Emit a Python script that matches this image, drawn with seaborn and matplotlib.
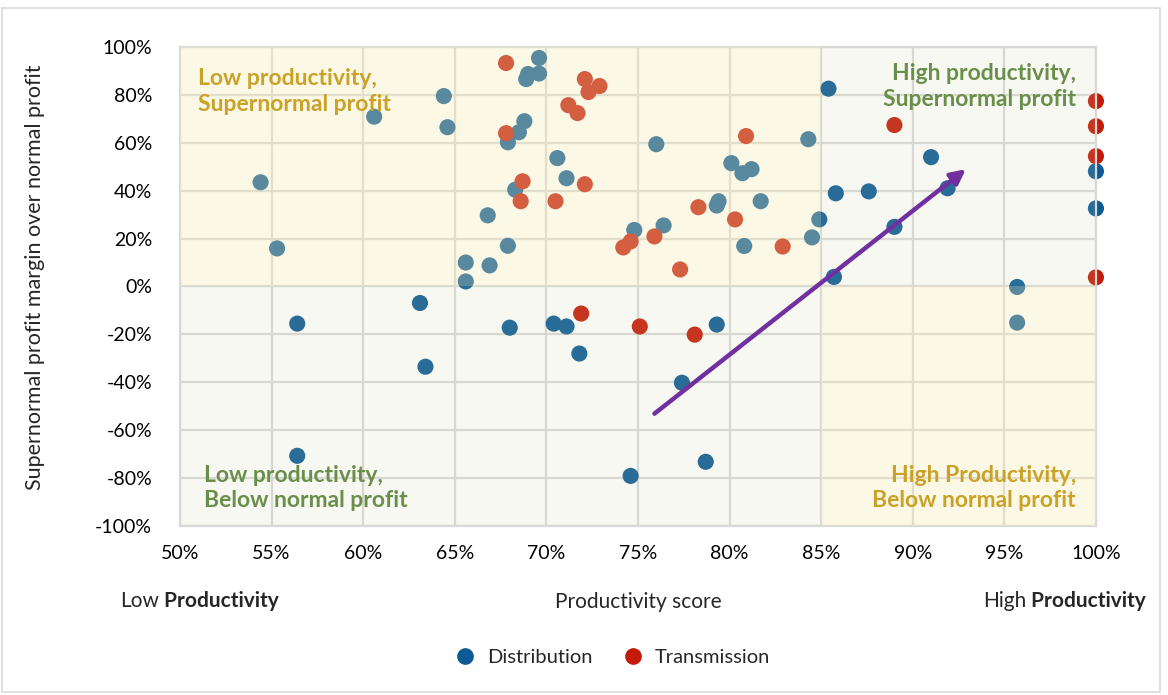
import pandas as pd
import numpy as np
import matplotlib
matplotlib.use("Agg")
import matplotlib.pyplot as plt
import seaborn as sns
from matplotlib.patches import Rectangle
from matplotlib.lines import Line2D

# --- data (productivity %, supernormal margin %) ---
dist_x = [54.4, 55.3, 56.4, 56.4, 60.6, 63.1, 63.4, 64.4, 64.6, 65.6, 65.6, 66.8, 66.9,
          68.0, 67.9, 67.9, 68.3, 68.5, 68.8, 68.9, 69.0, 69.6, 69.6, 70.4, 71.1, 71.8,
          70.6, 71.1, 74.6, 74.8, 76.0, 76.4, 77.4, 78.7, 79.3, 79.4, 79.3, 80.1, 80.7,
          81.2, 81.7, 80.8, 84.3, 84.5, 84.9, 85.4, 85.8, 85.7, 87.6, 89.0, 91.0, 91.9,
          95.7, 95.7, 100.0, 100.0]
dist_y = [43.5, 15.9, -15.5, -70.7, 70.9, -6.9, -33.5, 79.5, 66.5, 10.0, 2.1, 29.7, 8.8,
          -17.2, 17.0, 60.2, 40.4, 64.4, 69.0, 86.6, 88.7, 88.9, 95.4, -15.5, -16.7, -28.0,
          53.6, 45.2, -79.1, 23.6, 59.4, 25.5, -40.2, -73.2, -15.9, 35.6, 33.8, 51.5, 47.3,
          49.0, 35.6, 16.9, 61.5, 20.5, 28.0, 82.6, 38.9, 4.0, 39.7, 24.9, 54.0, 41.0,
          -0.2, -15.1, 48.1, 32.6]

trans_x = [67.8, 67.8, 68.7, 68.6, 70.5, 71.2, 71.7, 71.9, 72.1, 72.1, 72.3, 72.9, 74.2,
           74.6, 75.1, 75.9, 77.3, 78.1, 78.3, 80.3, 80.9, 82.9, 89.0, 100.0, 100.0,
           100.0, 100.0]
trans_y = [93.3, 64.0, 43.9, 35.6, 35.6, 75.7, 72.4, -11.3, 86.6, 42.7, 81.2, 83.7, 16.3,
           18.8, -16.7, 20.9, 7.1, -20.1, 33.1, 28.0, 62.8, 16.7, 67.4, 77.4, 66.9, 54.4,
           3.8]

series = ["Distribution", "Transmission"]
series_colors = ["#0d5a94", "#c41a08"]

x_ticks = [50, 55, 60, 65, 70, 75, 80, 85, 90, 95, 100]
y_ticks = [-100, -80, -60, -40, -20, 0, 20, 40, 60, 80, 100]

# trend arrow (start -> end) in data units
arrow_start = (75.9, -53.1)
arrow_end = (92.9, 49.0)

df = pd.DataFrame({
    "x": dist_x + trans_x,
    "y": dist_y + trans_y,
    "type": ["Distribution"] * len(dist_x) + ["Transmission"] * len(trans_x),
})

sns.set_theme(style="white")
plt.rcParams["font.family"] = ["Lato", "DejaVu Sans"]

fig = plt.figure(figsize=(11.68, 6.95), dpi=100)
ax = fig.add_axes([0.1541, 0.2432, 0.7842, 0.6892])

sns.scatterplot(data=df, x="x", y="y", hue="type", hue_order=series,
                palette=series_colors, s=135, linewidth=0, ax=ax,
                legend=False, zorder=2, clip_on=False)

ax.set_xlim(50, 100)
ax.set_ylim(-100, 100)
ax.set_xticks(x_ticks)
ax.set_yticks(y_ticks)
ax.set_xticklabels([f"{t}%" for t in x_ticks])
ax.set_yticklabels([f"{t}%" for t in y_ticks])
ax.tick_params(axis="both", labelsize=14, colors="#000000", length=0)
ax.tick_params(axis="x", pad=14)
ax.tick_params(axis="y", pad=20)

ax.set_axisbelow(True)
ax.grid(True, color="#d9d9d9", lw=1.6)
for sp in ax.spines.values():
    sp.set_color("#d9d9d9")
    sp.set_linewidth(1.6)

# quadrant shading sits over the dots, like the original
cream, grey = "#f6eab4", "#ced4aa"
ax.add_patch(Rectangle((50, 0), 35, 100, fc=cream, alpha=0.33, lw=0, zorder=3))
ax.add_patch(Rectangle((85, -100), 15, 100, fc=cream, alpha=0.33, lw=0, zorder=3))
ax.add_patch(Rectangle((50, -100), 35, 100, fc=grey, alpha=0.15, lw=0, zorder=3))
ax.add_patch(Rectangle((85, 0), 15, 100, fc=grey, alpha=0.15, lw=0, zorder=3))

ax.annotate("", xy=arrow_end, xytext=arrow_start,
            arrowprops=dict(arrowstyle="-|>", color="#7030a0", lw=3.2,
                            mutation_scale=22, shrinkA=0, shrinkB=0),
            zorder=5)

gold, green = "#c9a227", "#6a8f4a"
qkw = dict(fontsize=16.5, fontweight="bold", zorder=6, linespacing=1.25)
ax.text(51.0, 81.4, "Low productivity,\nSupernormal profit", color=gold,
        ha="left", va="center", **qkw)
ax.text(98.9, 83.5, "High productivity,\nSupernormal profit", color=green,
        ha="right", va="center", **qkw)
ax.text(51.3, -84.1, "Low productivity,\nBelow normal profit", color=green,
        ha="left", va="center", **qkw)
ax.text(98.9, -84.1, "High Productivity,\nBelow normal profit", color=gold,
        ha="right", va="center", **qkw)

ax.set_xlabel("Productivity score", fontsize=15)
ax.set_ylabel("Supernormal profit margin over normal profit", fontsize=15.5)
ax.xaxis.set_label_coords(0.5, -0.138)
ax.yaxis.set_label_coords(-0.147, 0.52)

# end labels under the x axis: plain word followed by bold "Productivity"
t1 = fig.text(120 / 1168, 1 - 601 / 695, "Low", fontsize=15, ha="left", va="center")
ax.annotate(" Productivity", xy=(1, 0), xycoords=t1, fontsize=15, fontweight="bold",
            ha="left", va="bottom", annotation_clip=False)
t2 = fig.text(983 / 1168, 1 - 601 / 695, "High", fontsize=15, ha="left", va="center")
ax.annotate(" Productivity", xy=(1, 0), xycoords=t2, fontsize=15, fontweight="bold",
            ha="left", va="bottom", annotation_clip=False)

handles = [Line2D([], [], marker="o", ls="", color=c, markersize=11) for c in series_colors]
fig.legend(handles, series, loc="center", bbox_to_anchor=(0.52, 0.054), ncol=2,
           frameon=False, fontsize=14.5, handletextpad=0.1, columnspacing=1.0)

fig.patches.append(Rectangle((0.002, 0.005), 0.991, 0.983, transform=fig.transFigure,
                             fill=False, ec="#d9d9d9", lw=1.2))

fig.savefig("out.png", dpi=100)
